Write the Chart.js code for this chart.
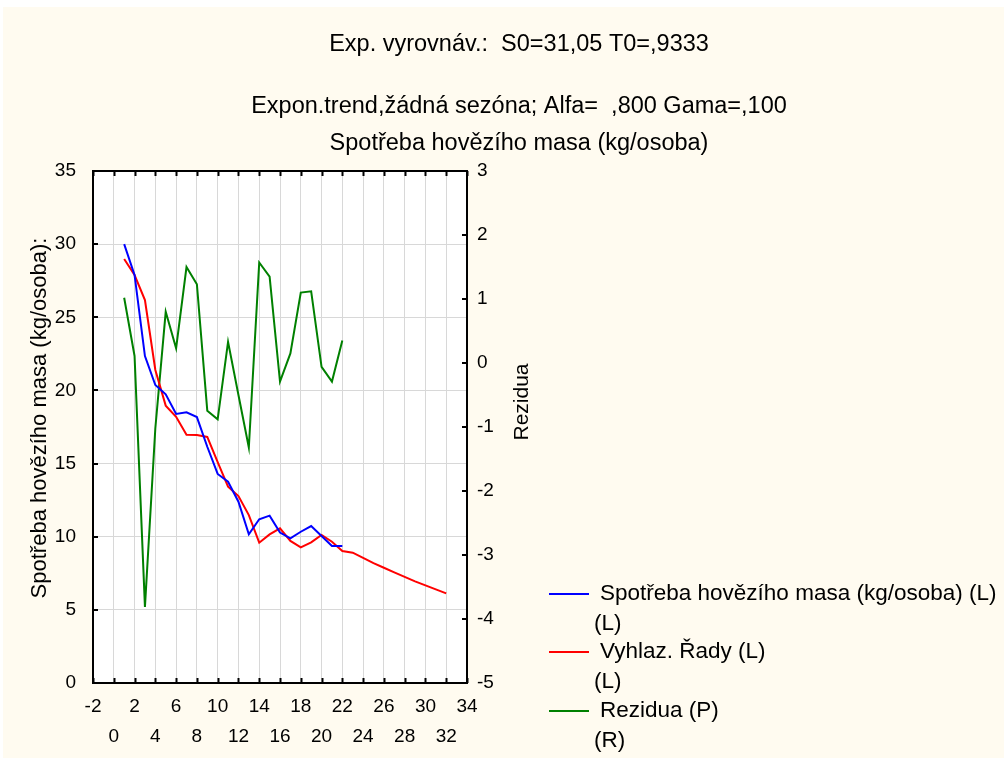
<!DOCTYPE html>
<html>
<head>
<meta charset="utf-8">
<script src="https://cdn.jsdelivr.net/npm/chart.js@4/dist/chart.umd.min.js"></script>
<style>
  html, body { margin: 0; padding: 0; background: #ffffff; }
  #wrap { position: absolute; left: 0; top: 0; width: 1004px; height: 758px; }
  #bg { position: absolute; left: 3px; top: 7px; width: 1001px; height: 751px; background: #FFFBF0; }
  canvas { position: absolute; left: 0; top: 0; }
</style>
</head>
<body>
<div id="wrap">
  <div id="bg"></div>
  <canvas id="c" width="1004" height="758"></canvas>
</div>
<script>
// ---- data ----
const titleLines = [
  'Exp. vyrovnáv.:  S0=31,05 T0=,9333',
  'Expon.trend,žádná sezóna; Alfa=  ,800 Gama=,100',
  'Spotřeba hovězího masa (kg/osoba)'
];
const leftAxisTitle = 'Spotřeba hovězího masa (kg/osoba):';
const rightAxisTitle = 'Rezidua';

const seriesNames = ['Spotřeba hovězího masa (kg/osoba) (L)', 'Vyhlaz. Řady (L)', 'Rezidua (P)'];
const seriesSubNames = ['(L)', '(L)', '(R)'];

const obsX = [1,2,3,4,5,6,7,8,9,10,11,12,13,14,15,16,17,18,19,20,21,22];
const spotreba = [30.0,27.9,22.35,20.37,19.73,18.39,18.5,18.18,16.15,14.29,13.76,12.39,10.16,11.19,11.44,10.28,9.89,10.34,10.73,10.05,9.36,9.36];

const smoothX = [1,2,3,4,5,6,7,8,9,10,11,12,13,14,15,16,17,18,19,20,21,22,23,24,25,26,27,28,29,30,31,32];
const vyhlaz = [28.98,27.89,26.18,21.4,18.96,18.2,16.97,16.96,16.82,15.1,13.42,12.78,11.48,9.59,10.16,10.57,9.71,9.27,9.62,10.12,9.66,9.02,8.91,8.55,8.2,7.88,7.56,7.25,6.95,6.67,6.4,6.13];

const rezidua = [1.02,0.11,-3.81,-1.02,0.8,0.23,1.5,1.23,-0.745,-0.88,0.33,-0.5,-1.32,1.57,1.35,-0.29,0.15,1.1,1.12,-0.06,-0.29,0.35];

const xMin = -2, xMax = 34, xStep = 2;
const yMin = 0, yMax = 35, yStep = 5;
const rMin = -5, rMax = 3, rStep = 1;

const FONT = 'Liberation Sans, Arial, sans-serif';
const colors = ['#0000FF', '#FF0000', '#008000'];

function pts(xs, ys) { return xs.map((x, i) => ({x: x, y: ys[i]})); }

const decoPlugin = {
  id: 'deco',
  beforeDraw(chart) {
    const {ctx, chartArea: a} = chart;
    ctx.save();
    ctx.fillStyle = '#ffffff';
    ctx.fillRect(a.left, a.top, a.right - a.left, a.bottom - a.top);
    ctx.restore();
  },
  afterDraw(chart) {
    const {ctx, chartArea: a, scales} = chart;
    ctx.save();
    // inward ticks
    ctx.strokeStyle = '#000';
    ctx.lineWidth = 2;
    ctx.beginPath();
    scales.x.ticks.forEach(t => {
      const px = Math.round(scales.x.getPixelForValue(t.value)) + 0.5;
      ctx.moveTo(px, a.top); ctx.lineTo(px, a.top + 5);
      ctx.moveTo(px, a.bottom); ctx.lineTo(px, a.bottom - 5);
    });
    scales.y.ticks.forEach(t => {
      const py = Math.round(scales.y.getPixelForValue(t.value));
      ctx.moveTo(a.left, py); ctx.lineTo(a.left + 5, py);
    });
    scales.y1.ticks.forEach(t => {
      const py = Math.round(scales.y1.getPixelForValue(t.value));
      ctx.moveTo(a.right, py); ctx.lineTo(a.right - 5, py);
    });
    ctx.stroke();
    // frame
    ctx.lineWidth = 2;
    ctx.strokeRect(a.left, a.top, a.right - a.left, a.bottom - a.top);

    // titles
    ctx.fillStyle = '#000';
    ctx.font = '23.5px ' + FONT;
    ctx.textAlign = 'center';
    ctx.textBaseline = 'alphabetic';
    const tY = [51, 113, 150];
    titleLines.forEach((s, i) => ctx.fillText(s, 519, tY[i]));

    // axis titles
    ctx.font = '22px ' + FONT;
    ctx.save();
    ctx.translate(40, 418);
    ctx.rotate(-Math.PI / 2);
    ctx.textBaseline = 'middle';
    ctx.fillText(leftAxisTitle, 0, 0);
    ctx.restore();
    ctx.font = '21px ' + FONT;
    ctx.save();
    ctx.translate(522, 402);
    ctx.rotate(-Math.PI / 2);
    ctx.textBaseline = 'middle';
    ctx.fillText(rightAxisTitle, 0, 0);
    ctx.restore();

    // legend
    ctx.font = '22.5px ' + FONT;
    ctx.textAlign = 'left';
    ctx.textBaseline = 'middle';
    const ly = [594, 652, 711];
    chart.data.datasets.forEach((ds, i) => {
      ctx.strokeStyle = ds.borderColor;
      ctx.lineWidth = 2;
      ctx.beginPath();
      ctx.moveTo(549, ly[i]); ctx.lineTo(589, ly[i]);
      ctx.stroke();
      ctx.fillText(seriesNames[i], 600, ly[i]);
      ctx.fillText(seriesSubNames[i], 594, ly[i] + 30);
    });
    ctx.restore();
  }
};

new Chart(document.getElementById('c'), {
  type: 'line',
  data: {
    datasets: [
      { label: seriesNames[0], data: pts(obsX, spotreba), borderColor: colors[0], backgroundColor: colors[0], borderWidth: 2, pointRadius: 0, yAxisID: 'y', tension: 0 },
      { label: seriesNames[1], data: pts(smoothX, vyhlaz), borderColor: colors[1], backgroundColor: colors[1], borderWidth: 2, pointRadius: 0, yAxisID: 'y', tension: 0 },
      { label: seriesNames[2], data: pts(obsX, rezidua), borderColor: colors[2], backgroundColor: colors[2], borderWidth: 2, pointRadius: 0, yAxisID: 'y1', tension: 0 }
    ]
  },
  options: {
    responsive: false,
    animation: false,
    devicePixelRatio: 1,
    layout: { padding: { left: 0, top: 171, right: 477, bottom: 0 } },
    plugins: { legend: { display: false }, title: { display: false }, tooltip: { enabled: false } },
    scales: {
      x: {
        type: 'linear', position: 'bottom', min: xMin, max: xMax,
        afterBuildTicks(scale) {
          const t = [];
          for (let v = xMin; v <= xMax; v += xStep) t.push({value: v});
          scale.ticks = t;
        },
        afterFit(scale) { scale.height = 75; },
        grid: { color: '#d8d8d8', lineWidth: 1, drawTicks: false },
        border: { display: false },
        ticks: {
          autoSkip: false, maxRotation: 0, minRotation: 0, padding: 9,
          color: '#000', font: { family: FONT, size: 19, lineHeight: '30px' },
          callback(v) {
            const k = Math.round((v - xMin) / xStep);
            return k % 2 === 0 ? [String(v)] : ['', String(v)];
          }
        }
      },
      y: {
        type: 'linear', position: 'left', min: yMin, max: yMax,
        ticks: { stepSize: yStep, padding: 17, color: '#000', font: { family: FONT, size: 19 } },
        afterFit(scale) { scale.width = 93; },
        grid: { color: '#d8d8d8', lineWidth: 1, drawTicks: false },
        border: { display: false }
      },
      y1: {
        type: 'linear', position: 'right', min: rMin, max: rMax,
        ticks: { stepSize: rStep, padding: 10, color: '#000', font: { family: FONT, size: 19 } },
        afterFit(scale) { scale.width = 60; },
        grid: { display: false, drawTicks: false },
        border: { display: false }
      }
    }
  },
  plugins: [decoPlugin]
});
</script>
</body>
</html>
